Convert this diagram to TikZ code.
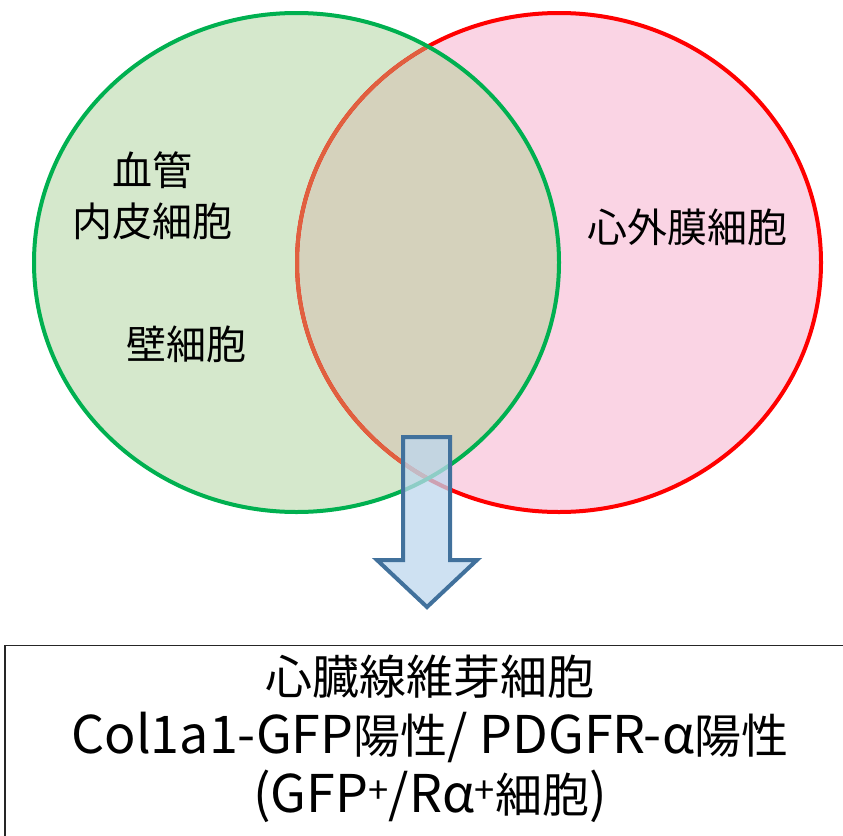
\documentclass[tikz,border=0pt]{standalone}
\usepackage{fontspec}
\setmainfont{Noto Sans CJK JP}
\definecolor{gfill}{HTML}{D5E8CC}
\definecolor{pfill}{HTML}{FAD4E4}
\definecolor{ofill}{HTML}{D5D2BC}
\definecolor{gline}{HTML}{00B050}
\definecolor{rline}{HTML}{FF0000}
\definecolor{oline}{HTML}{E0603F}
\definecolor{afill}{HTML}{BDD7EE}
\definecolor{aline}{HTML}{41719C}
\newcommand{\latrun}[1]{{\fontsize{52}{58}\selectfont #1}}
\tikzset{
  vlabel/.style={font=\fontsize{40}{51}\selectfont, align=center, inner sep=0pt},
  blabel/.style={font=\fontsize{47}{59}\selectfont, align=center, inner sep=0pt},
  ring/.style={line width=4pt},
}
\begin{document}
\begin{tikzpicture}[x=1pt,y=-1pt]
\useasboundingbox (0,0) rectangle (843,835);
\clip (0,0) rectangle (843,835);
% fills
\fill[gfill] (296.5,262.5) ellipse [x radius=262.5, y radius=249.5];
\fill[pfill] (559,262.5) ellipse [x radius=262, y radius=249.5];
\begin{scope}
  \clip (296.5,262.5) ellipse [x radius=262.5, y radius=249.5];
  \fill[ofill] (559,262.5) ellipse [x radius=262, y radius=249.5];
\end{scope}
% outlines
\draw[ring, rline] (559,262.5) ellipse [x radius=262, y radius=249.5];
\begin{scope}
  \clip (296.5,262.5) ellipse [x radius=262.5, y radius=249.5];
  \draw[ring, oline] (559,262.5) ellipse [x radius=262, y radius=249.5];
\end{scope}
\draw[ring, gline] (296.5,262.5) ellipse [x radius=262.5, y radius=249.5];
% labels
\node[vlabel] (vasc) at (152,196) {血管\\内皮細胞};
\node[vlabel] (mural) at (186,344) {壁細胞};
\node[vlabel] (epi) at (687,227) {心外膜細胞};
% arrow
\draw[aline, line width=4pt, fill=afill, fill opacity=0.75, line join=miter]
  (403,437) -- (450,437) -- (450,560) -- (477,560) -- (427,607) -- (377,560) -- (403,560) -- cycle;
% box
\draw[line width=1.5pt, black!85] (5,860) -- (5,645.5) -- (860,645.5);
\node[blabel] (fib) at (430,739) {心臓線維芽細胞\\\latrun{Col1a1-GFP}陽性\latrun{/ PDGFR-α}陽性\\\latrun{(GFP\textsuperscript{+}/Rα\textsuperscript{+}}細胞\latrun{)}};
\end{tikzpicture}
\end{document}
